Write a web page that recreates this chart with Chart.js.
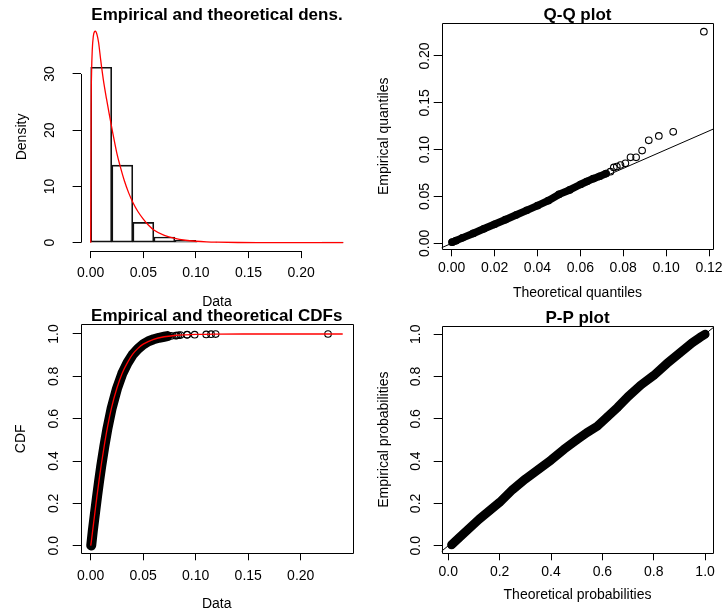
<!DOCTYPE html>
<html>
<head>
<meta charset="utf-8">
<script src="https://cdn.jsdelivr.net/npm/chart.js@4/dist/chart.umd.min.js"></script>
<style>
html, body { margin: 0; padding: 0; background: #fff; }
#wrap { position: relative; width: 723px; height: 615px; }
canvas { position: absolute; }
</style>
</head>
<body>
<div id="wrap">
  <canvas id="dens" width="362" height="308" style="left:0px;top:0px"></canvas>
  <canvas id="qq" width="361" height="308" style="left:362px;top:0px"></canvas>
  <canvas id="cdf" width="362" height="307" style="left:0px;top:308px"></canvas>
  <canvas id="pp" width="361" height="307" style="left:362px;top:308px"></canvas>
</div>
<script>
// histogram (bin centres, density)
const histMids = [0.01, 0.03, 0.05, 0.07, 0.09, 0.11, 0.13, 0.15, 0.17, 0.19, 0.21, 0.23];
const histDens = [31.2, 13.8, 3.6, 1.0, 0.4, 0.1, 0, 0, 0, 0, 0, 0.05];
// fitted density curve
const densX = [0, 0.0004, 0.0008, 0.0015, 0.0025, 0.0035, 0.0045, 0.006, 0.0075, 0.0095, 0.012, 0.015, 0.018, 0.021,
  0.025, 0.028, 0.032, 0.036, 0.04, 0.045, 0.05, 0.055, 0.06, 0.07, 0.08, 0.09, 0.1, 0.11, 0.12, 0.14, 0.16, 0.2, 0.24];
const densY = [0, 24, 30, 34.3, 36.7, 37.5, 37.6, 37.0, 35.6, 32.5, 29.0, 25.6, 22.5, 19.5,
  15.8, 13.6, 11.0, 8.9, 7.2, 5.5, 4.2, 3.1, 2.26, 1.3, 0.75, 0.43, 0.25, 0.14, 0.08, 0.026, 0.008, 0.001, 0];

// Q-Q: dense part and the separated upper tail
const qqTheo = [0.0002, 0.002, 0.005, 0.01, 0.015, 0.02, 0.025, 0.03, 0.035, 0.04, 0.045, 0.05, 0.055, 0.06, 0.063, 0.066, 0.069, 0.072];
const qqEmp = [0.0012, 0.0028, 0.0058, 0.0105, 0.0155, 0.0203, 0.0252, 0.0302, 0.0352, 0.0402, 0.0455, 0.0522, 0.057, 0.0628, 0.066, 0.069, 0.0715, 0.0745];
const tailTheo = [0.074, 0.0756, 0.077, 0.0787, 0.081, 0.0834, 0.086, 0.0888, 0.0919, 0.0966, 0.1033, 0.1176];
const tailEmp = [0.0765, 0.081, 0.082, 0.0836, 0.0854, 0.0918, 0.0918, 0.099, 0.110, 0.1146, 0.119, 0.226];
const qqLine = [-0.05, 0.3];

// CDFs
const cdfX = [0, 0.0004, 0.001, 0.002, 0.003, 0.004, 0.006, 0.008, 0.01, 0.013, 0.016, 0.02, 0.025, 0.03, 0.035,
  0.04, 0.045, 0.05, 0.06, 0.07, 0.08, 0.09, 0.1, 0.12, 0.15, 0.24];
const cdfY = [0, 0.012, 0.036, 0.076, 0.116, 0.156, 0.235, 0.31, 0.38, 0.475, 0.56, 0.655, 0.745, 0.815, 0.865,
  0.905, 0.932, 0.952, 0.975, 0.987, 0.993, 0.996, 0.998, 0.9995, 1.0, 1.0];
const ecdfX = [0.0005, 0.002, 0.004, 0.006, 0.008, 0.01, 0.013, 0.016, 0.02, 0.025, 0.03, 0.035, 0.04, 0.045,
  0.05, 0.055, 0.06, 0.065, 0.07, 0.073];
const ecdfY = [0.001, 0.07, 0.15, 0.23, 0.305, 0.375, 0.47, 0.555, 0.65, 0.742, 0.812, 0.863, 0.903, 0.93,
  0.951, 0.966, 0.975, 0.982, 0.987, 0.99];
const tailEcdf = [0.991, 0.992, 0.993, 0.994, 0.995, 0.996, 0.997, 0.997, 0.998, 0.999, 0.9995, 1.0];

// P-P
const ppTheo = [0.013, 0.04, 0.08, 0.12, 0.16, 0.2, 0.25, 0.3, 0.35, 0.4, 0.45, 0.5, 0.54, 0.58, 0.62, 0.66,
  0.7, 0.75, 0.8, 0.85, 0.9, 0.95, 0.98, 1.0];
const ppEmp = [0.004, 0.035, 0.08, 0.125, 0.165, 0.205, 0.265, 0.315, 0.36, 0.405, 0.455, 0.5, 0.535, 0.565, 0.61, 0.655,
  0.705, 0.76, 0.805, 0.86, 0.91, 0.96, 0.985, 1.0];
const ppLine = [-0.1, 1.1];

// tick labels
const dataTicks = [0, 0.05, 0.1, 0.15, 0.2];
const densTicks = [0, 10, 20, 30];
const qqXTicks = [0, 0.02, 0.04, 0.06, 0.08, 0.1, 0.12];
const qqYTicks = [0, 0.05, 0.1, 0.15, 0.2];
const probTicks = [0, 0.2, 0.4, 0.6, 0.8, 1];

const xy = (xs, ys) => xs.map((x, i) => ({x: x, y: ys[i]}));

Chart.defaults.font.family = "'Liberation Sans', Arial, Helvetica, sans-serif";
Chart.defaults.color = '#000';

// R style axes: box around the plot, or axis lines from first to last tick
Chart.register({
  id: 'rAxes',
  afterDraw(chart, args, opts) {
    const {ctx, chartArea: a, scales: {x, y}} = chart;
    ctx.save();
    ctx.strokeStyle = '#000';
    ctx.lineWidth = 1;
    ctx.beginPath();
    if (opts.box) {
      const l = Math.round(a.left) + 0.5, t = Math.round(a.top) + 0.5;
      ctx.rect(l, t, Math.round(a.right) - Math.round(a.left), Math.round(a.bottom) - Math.round(a.top));
    } else {
      const yb = Math.round(a.bottom) + 0.5, xl = Math.round(a.left) + 0.5;
      ctx.moveTo(x.getPixelForValue(x.ticks[0].value), yb);
      ctx.lineTo(x.getPixelForValue(x.ticks[x.ticks.length - 1].value), yb);
      ctx.moveTo(xl, y.getPixelForValue(y.ticks[0].value));
      ctx.lineTo(xl, y.getPixelForValue(y.ticks[y.ticks.length - 1].value));
    }
    ctx.stroke();
    ctx.restore();
  }
});

function panelOptions(p) {
  return {
    responsive: false,
    animation: false,
    layout: {padding: {left: 0, top: 0, bottom: 0, right: p.padRight}},
    plugins: {
      legend: {display: false},
      tooltip: {enabled: false},
      title: {
        display: true, text: p.title, fullSize: false, color: '#000',
        font: {size: 17, weight: 'bold', lineHeight: 0.5},
        padding: {top: p.titleTop, bottom: p.titleBottom}
      },
      rAxes: {box: p.box}
    },
    scales: {
      x: {
        type: 'linear', min: p.xMin, max: p.xMax, offset: false,
        afterBuildTicks: s => { s.ticks = p.xTicks.map(v => ({value: v})); },
        afterFit: s => { s.height = p.xHeight; s.paddingLeft = 0; s.paddingRight = 0; },
        ticks: {autoSkip: false, maxRotation: 0, padding: p.xPad, color: '#000', font: {size: 14},
          callback: v => v.toFixed(p.xDec)},
        grid: {drawOnChartArea: false, offset: false, tickLength: 7, color: '#000'},
        border: {display: false},
        title: {display: true, text: p.xTitle, color: '#000', font: {size: 14, lineHeight: 0.6},
          padding: {top: 0, bottom: p.xTitlePad}}
      },
      y: {
        type: 'linear', min: p.yMin, max: p.yMax,
        afterBuildTicks: s => { s.ticks = p.yTicks.map(v => ({value: v})); },
        afterFit: s => { s.width = p.yWidth; s.paddingTop = 0; s.paddingBottom = 0; },
        ticks: {autoSkip: false, minRotation: 90, crossAlign: 'center', padding: p.yPad, color: '#000',
          font: {size: 14}, callback: v => v.toFixed(p.yDec)},
        grid: {drawOnChartArea: false, tickLength: 8, color: '#000'},
        border: {display: false},
        title: {display: true, text: p.yTitle, color: '#000', font: {size: 14, lineHeight: 0.6},
          padding: {top: p.yTitlePad, bottom: 0}}
      }
    }
  };
}

const circles = {showLine: false, pointRadius: 3.3, pointBorderWidth: 1.1, pointBorderColor: '#000',
  pointBackgroundColor: 'rgba(0,0,0,0)'};
const band = w => ({showLine: true, borderColor: '#000', borderWidth: w, borderCapStyle: 'round',
  borderJoinStyle: 'round', pointRadius: 0});

// 1. density
new Chart(document.getElementById('dens'), {
  type: 'bar',
  data: {
    datasets: [{
      type: 'line', order: 0, data: xy(densX, densY), borderColor: '#ff0000', borderWidth: 1.3,
      pointRadius: 0, cubicInterpolationMode: 'monotone'
    }, {
      type: 'bar', order: 1, data: xy(histMids, histDens), backgroundColor: 'rgba(0,0,0,0)',
      borderColor: '#111', borderWidth: 1, borderSkipped: false, barPercentage: 1, categoryPercentage: 1
    }]
  },
  options: panelOptions({
    title: 'Empirical and theoretical dens.', box: false, padRight: 8.7, titleTop: 10.75, titleBottom: 3.55,
    xMin: -0.0096, xMax: 0.2496, xTicks: dataTicks, xDec: 2, xHeight: 56.9, xPad: 6.8, xTitle: 'Data', xTitlePad: 1.5,
    yMin: -1.5, yMax: 39.1, yTicks: densTicks, yDec: 0, yWidth: 80.6, yPad: 14.8, yTitle: 'Density', yTitlePad: 17.5
  })
});

// 2. Q-Q plot
new Chart(document.getElementById('qq'), {
  type: 'scatter',
  data: {
    datasets: [
      Object.assign({data: xy(tailTheo, tailEmp)}, circles),
      Object.assign({data: xy(qqTheo, qqEmp)}, circles),
      Object.assign({data: xy(qqTheo, qqEmp)}, band(7.5)),
      {data: xy(qqLine, qqLine), showLine: true, borderColor: '#000', borderWidth: 1, pointRadius: 0}
    ]
  },
  options: panelOptions({
    title: 'Q-Q plot', box: true, padRight: 9.7, titleTop: 11.05, titleBottom: 3.75,
    xMin: -0.00466, xMax: 0.122, xTicks: qqXTicks, xDec: 2, xHeight: 58.7, xPad: 3.6,
    xTitle: 'Theoretical quantiles', xTitlePad: 10.5,
    yMin: -0.0064, yMax: 0.2349, yTicks: qqYTicks, yDec: 2, yWidth: 79.7, yPad: -4.6,
    yTitle: 'Empirical quantiles', yTitlePad: 17.5
  })
});

// 3. CDFs
new Chart(document.getElementById('cdf'), {
  type: 'scatter',
  data: {
    datasets: [
      {data: xy(cdfX, cdfY), showLine: true, borderColor: '#ff0000', borderWidth: 1.3, pointRadius: 0,
        cubicInterpolationMode: 'monotone'},
      Object.assign({data: xy(tailEmp, tailEcdf)}, circles),
      Object.assign({data: xy(ecdfX, ecdfY)}, circles),
      Object.assign({data: xy(ecdfX, ecdfY)}, band(10))
    ]
  },
  options: panelOptions({
    title: 'Empirical and theoretical CDFs', box: true, padRight: 9.3, titleTop: 4.45, titleBottom: 3.35,
    xMin: -0.00952, xMax: 0.2495, xTicks: dataTicks, xDec: 2, xHeight: 61.7, xPad: 7.3, xTitle: 'Data', xTitlePad: 6.8,
    yMin: -0.0359, yMax: 1.0458, yTicks: probTicks, yDec: 1, yWidth: 80.7, yPad: 9.0, yTitle: 'CDF', yTitlePad: 16.5
  })
});

// 4. P-P plot
new Chart(document.getElementById('pp'), {
  type: 'scatter',
  data: {
    datasets: [
      {data: xy(ppLine, ppLine), showLine: true, borderColor: '#000', borderWidth: 1, pointRadius: 0},
      Object.assign({data: xy(ppTheo, ppEmp)}, circles),
      Object.assign({data: xy(ppTheo, ppEmp)}, band(9))
    ]
  },
  options: panelOptions({
    title: 'P-P plot', box: true, padRight: 9.7, titleTop: 5.75, titleBottom: 3.75,
    xMin: -0.0257, xMax: 1.032, xTicks: probTicks, xDec: 1, xHeight: 61.7, xPad: 3.0,
    xTitle: 'Theoretical probabilities', xTitlePad: 15.8,
    yMin: -0.036, yMax: 1.039, yTicks: probTicks, yDec: 1, yWidth: 79.7, yPad: 8.0,
    yTitle: 'Empirical probabilities', yTitlePad: 17.5
  })
});
</script>
</body>
</html>
